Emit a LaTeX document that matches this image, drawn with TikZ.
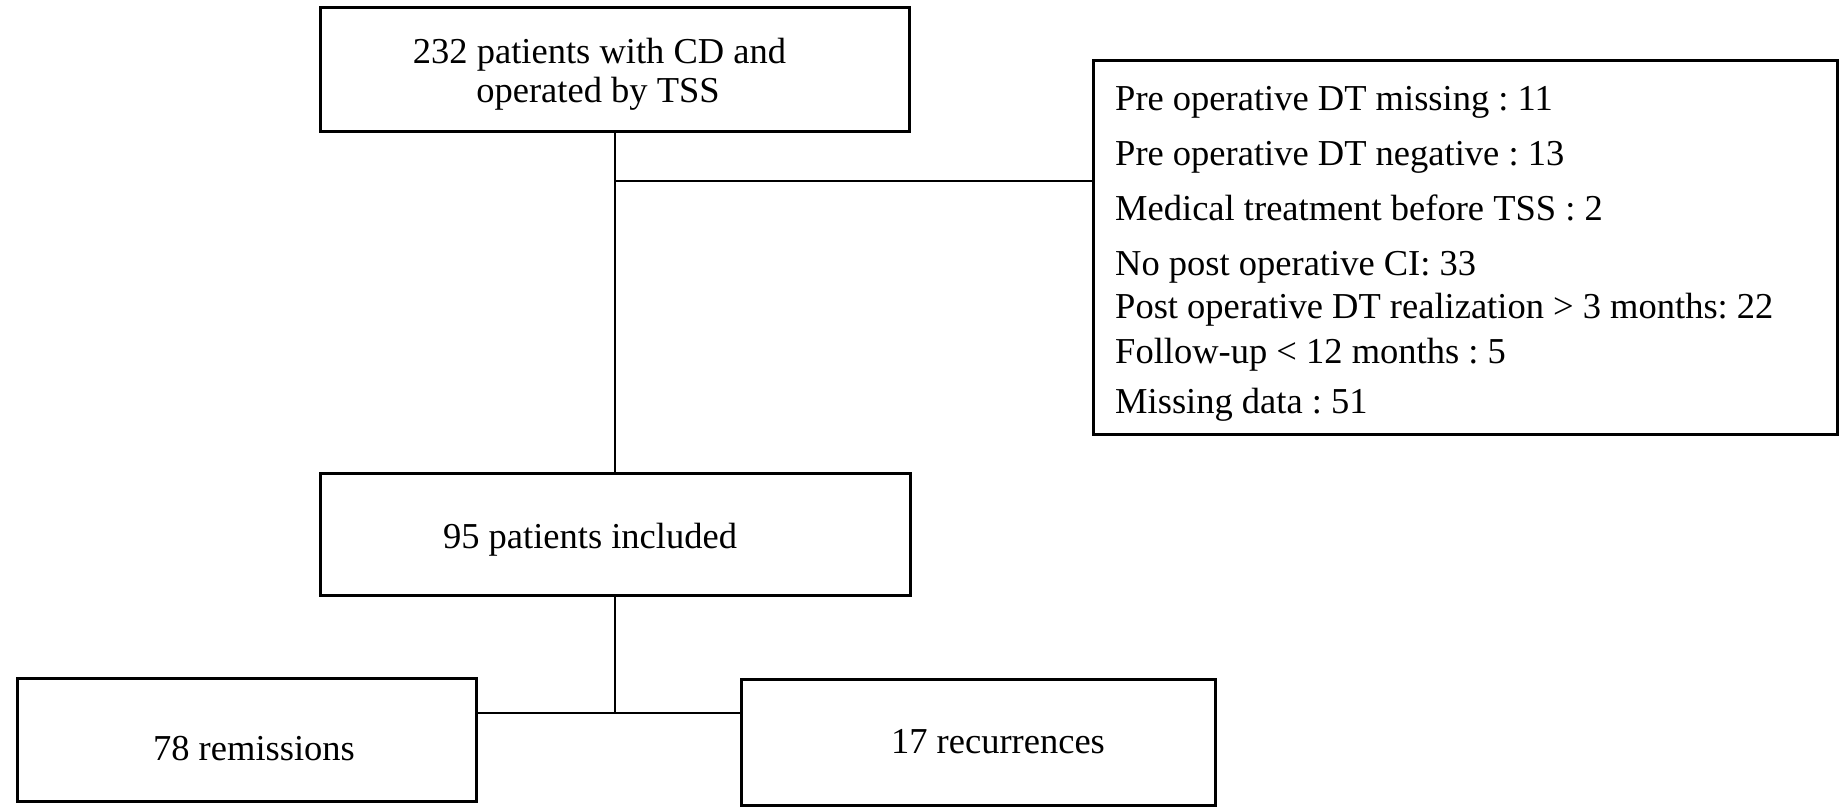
\documentclass[tikz,border=0pt]{standalone}
\usepackage{fontspec}
\setmainfont{Liberation Serif}
\frenchspacing
\begin{document}
\begin{tikzpicture}[x=1pt,y=-1pt,
	box/.style={draw,line width=3pt},
	txt/.style={inner sep=0pt,font=\fontsize{36.5}{42}\selectfont},
	link/.style={line width=1.8pt}]
	\useasboundingbox (0,0) rectangle (1842,811);
	% boxes
	\node[box,minimum width=589pt,minimum height=124pt] (tss) at (615,69.5) {};
	\node[box,minimum width=744pt,minimum height=374pt] (excl) at (1465.5,247.5) {};
	\node[box,minimum width=590pt,minimum height=122pt] (incl) at (615,534.5) {};
	\node[box,minimum width=459pt,minimum height=123pt] (rem) at (247,740) {};
	\node[box,minimum width=474pt,minimum height=126pt] (rec) at (978.5,742.5) {};
	% texts
	\node[txt,anchor=base] (tss1) at (599.5,63) {232 patients with CD and};
	\node[txt,anchor=base] (tss2) at (598,102) {operated by TSS};
	\node[txt,anchor=base west] (ex1) at (1115,110) {Pre operative DT missing : 11};
	\node[txt,anchor=base west] (ex2) at (1115,165) {Pre operative DT negative : 13};
	\node[txt,anchor=base west] (ex3) at (1115,220) {Medical treatment before TSS : 2};
	\node[txt,anchor=base west] (ex4) at (1115,275) {No post operative CI: 33};
	\node[txt,anchor=base west] (ex5) at (1115,318) {Post operative DT realization > 3 months: 22};
	\node[txt,anchor=base west] (ex6) at (1115,363) {Follow-up < 12 months : 5};
	\node[txt,anchor=base west] (ex7) at (1115,413) {Missing data : 51};
	\node[txt,anchor=base] (incl1) at (590,548) {95 patients included};
	\node[txt,anchor=base] (rem1) at (254,760) {78 remissions};
	\node[txt,anchor=base] (rec1) at (998,753) {17 recurrences};
	% connectors
	\coordinate (fork) at (615,181);
	\coordinate (split) at (615,713);
	\draw[link] (tss) -- (incl);
	\draw[link] (fork) -- (fork -| excl.west);
	\draw[link] (incl) -- (split);
	\draw[link] (rem.east |- split) -- (rec.west |- split);
\end{tikzpicture}
\end{document}
